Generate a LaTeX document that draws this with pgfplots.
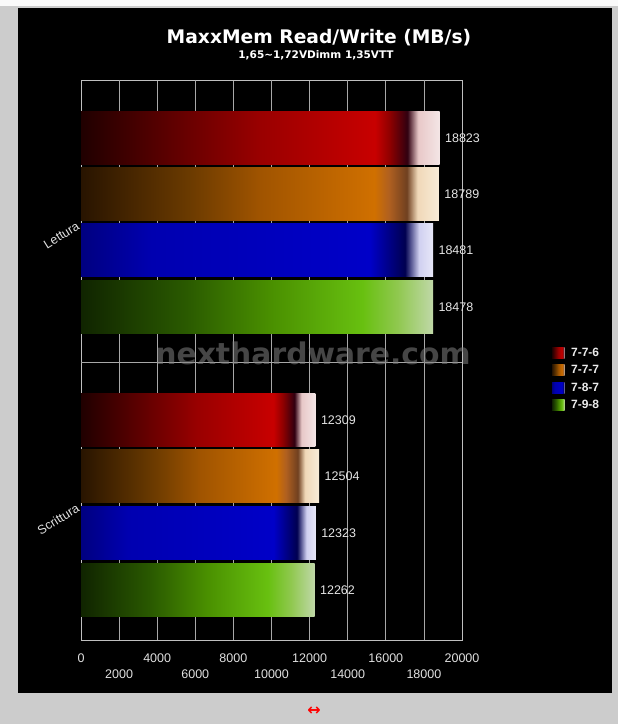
\documentclass[border=0pt]{standalone}
\usepackage{pgfplots}
\pgfplotsset{compat=1.18}
\usepackage{fontspec}
\setmainfont{Liberation Sans}
\newfontfamily\djv{DejaVu Sans}

\definecolor{bggray}{HTML}{CCCCCC}
\definecolor{gridc}{HTML}{A8A8A8}
% red
\definecolor{ra}{HTML}{200000}\definecolor{rb}{HTML}{6A0000}\definecolor{rc}{HTML}{9A0000}
\definecolor{rd}{HTML}{C80000}\definecolor{re}{HTML}{900000}\definecolor{rf}{HTML}{300010}
\definecolor{rg}{HTML}{E8C8C8}\definecolor{rh}{HTML}{F4E6E6}
% orange
\definecolor{oa}{HTML}{281400}\definecolor{ob}{HTML}{6A3A00}\definecolor{oc}{HTML}{A05400}
\definecolor{od}{HTML}{D07000}\definecolor{oe}{HTML}{B06020}\definecolor{of}{HTML}{704020}
\definecolor{og}{HTML}{F0D8B8}\definecolor{oh}{HTML}{F8ECD8}
% blue
\definecolor{ba}{HTML}{000080}\definecolor{bb}{HTML}{0000B0}\definecolor{bc}{HTML}{0000C8}
\definecolor{bd}{HTML}{000050}\definecolor{be}{HTML}{D0D0F0}\definecolor{bf}{HTML}{E8E8F8}
% green
\definecolor{ga}{HTML}{102400}\definecolor{gb}{HTML}{2A5A00}\definecolor{gc}{HTML}{4A9000}
\definecolor{gd}{HTML}{68C010}\definecolor{ge}{HTML}{90C850}\definecolor{gf}{HTML}{C0D8A8}

\pgfdeclarehorizontalshading{redbar}{100bp}{color(0bp)=(ra); color(25bp)=(ra); color(40bp)=(rb); color(50bp)=(rc); color(66bp)=(rd); color(68bp)=(re); color(70.5bp)=(rf); color(72bp)=(rg); color(75bp)=(rh); color(100bp)=(rh)}
\pgfdeclarehorizontalshading{orangebar}{100bp}{color(0bp)=(oa); color(25bp)=(oa); color(40bp)=(ob); color(50bp)=(oc); color(66bp)=(od); color(68bp)=(oe); color(70.5bp)=(of); color(72bp)=(og); color(75bp)=(oh); color(100bp)=(oh)}
\pgfdeclarehorizontalshading{bluebar}{100bp}{color(0bp)=(ba); color(25bp)=(ba); color(35bp)=(bb); color(66bp)=(bc); color(71bp)=(bd); color(73bp)=(be); color(75bp)=(bf); color(100bp)=(bf)}
\pgfdeclarehorizontalshading{greenbar}{100bp}{color(0bp)=(ga); color(25bp)=(ga); color(40bp)=(gb); color(52bp)=(gc); color(65bp)=(gd); color(70bp)=(ge); color(75bp)=(gf); color(100bp)=(gf)}

\pgfplotsset{mybar/.style={xbar, bar width=53, bar shift=0pt, draw=none, shade, shading=#1}}

\begin{document}
\begin{tikzpicture}
\fill[bggray] (0,0) rectangle (618pt,-724pt);
\fill[white!90!bggray] (0,0) rectangle (618pt,-6pt);
\fill[black] (18pt,-8pt) rectangle (612pt,-693pt);
\node[font=\djv\bfseries\fontsize{18.7}{22}\selectfont, text=white, anchor=base] at (319pt,-43pt) {MaxxMem Read/Write (MB/s)};
\node[font=\djv\bfseries\fontsize{10.5}{12}\selectfont, text=white, anchor=base] at (316pt,-58pt) {1,65\textasciitilde1,72VDimm 1,35VTT};

\begin{axis}[
  at={(81pt,-640pt)}, anchor=south west,
  scale only axis, width=381pt, height=560pt,
  xmin=0, xmax=20000, ymin=0, ymax=560,
  axis line style={draw=white!75!black, line width=0.9pt},
  tick style={draw=none}, major tick length=0pt,
  scaled x ticks=false,
  xtick={0,4000,8000,12000,16000,20000},
  extra x ticks={2000,6000,10000,14000,18000},
  extra x tick style={grid=major, tick label style={yshift=-16pt}},
  xmajorgrids,
  grid style={draw=gridc, line width=0.8pt},
  ytick={135,417}, yticklabels={Scrittura,Lettura},
  extra y ticks={278}, extra y tick labels={\empty},
  extra y tick style={grid=major},
  /pgf/number format/set thousands separator={},
  /pgf/number format/assume math mode=true,
  xticklabel style={anchor=base, yshift=-22pt, text=white!88!black, font=\fontsize{12.5}{14}\selectfont},
  yticklabel style={rotate=32, anchor=east, text=white!88!black, font=\fontsize{12.5}{14}\selectfont},
  point meta=x,
  nodes near coords,
  every node near coord/.append style={text=white!90!black, font=\fontsize{12.5}{14}\selectfont, anchor=west, xshift=2pt},
  legend style={at={(1.236,0.525)}, anchor=north west, draw=none, fill=none, inner sep=0pt,
     text=white!92!black, font=\bfseries\fontsize{12}{14}\selectfont, row sep=3.5pt},
  legend cell align=left,
  legend image code/.code={\path[#1, draw=none] (0pt,-5.5pt) rectangle (12.5pt,5.5pt); \path[draw=none] (12pt,0pt) -- (17pt,0pt);},
]
% Lettura
\addplot[mybar=redbar] coordinates {(18823,502)};
\addlegendentry{7-7-6}
\addplot[mybar=orangebar] coordinates {(18789,446)};
\addlegendentry{7-7-7}
\addplot[mybar=bluebar] coordinates {(18481,390)};
\addlegendentry{7-8-7}
\addplot[mybar=greenbar] coordinates {(18478,333)};
\addlegendentry{7-9-8}
% Scrittura
\addplot[mybar=redbar, forget plot] coordinates {(12309,220)};
\addplot[mybar=orangebar, forget plot] coordinates {(12504,164)};
\addplot[mybar=bluebar, forget plot] coordinates {(12323,107)};
\addplot[mybar=greenbar, forget plot] coordinates {(12262,50)};
\end{axis}

\node[font=\djv\bfseries\fontsize{29.8}{32}\selectfont, text=gray, opacity=0.55] at (313pt,-353pt) {nexthardware.com};
\node[text=red, font=\djv\bfseries\fontsize{16}{18}\selectfont] at (314pt,-711pt) {↔};
\pgfresetboundingbox
\useasboundingbox (0,0) rectangle (618pt,-724pt);
\end{tikzpicture}
\end{document}
